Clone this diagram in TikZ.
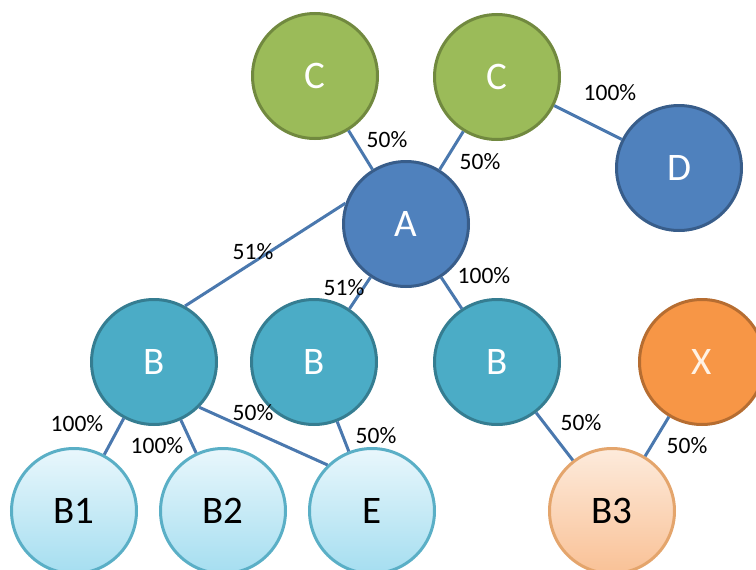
\documentclass[tikz,border=0pt]{standalone}
\usepackage{fontspec}
\setmainfont{Carlito}
\begin{document}
\begin{tikzpicture}[x=1pt,y=-1pt,
  ent/.style={circle,minimum size=125pt,inner sep=0pt,line width=3pt,font=\fontsize{39}{44}\selectfont},
  green/.style={ent,fill=cgreen,draw=cgreenD,text=white},
  blue/.style={ent,fill=cblue,draw=cblueD,text=white},
  teal/.style={ent,fill=cteal,draw=ctealD,text=white},
  orange/.style={ent,fill=corange,draw=corangeD,text=white!90!orange},
  pale/.style={ent,top color=cpaleT,bottom color=cpaleB,draw=cpaleD,text=black},
  peach/.style={ent,top color=cpeachT,bottom color=cpeachB,draw=cpeachD,text=black},
  link/.style={draw=clink,line width=3pt},
  pct/.style={font=\fontsize{23.5}{27}\selectfont,text=black,inner sep=0pt}]
\definecolor{cgreen}{HTML}{9BBB59}
\definecolor{cgreenD}{HTML}{71893F}
\definecolor{cblue}{HTML}{4F81BD}
\definecolor{cblueD}{HTML}{385D8A}
\definecolor{cteal}{HTML}{4BACC6}
\definecolor{ctealD}{HTML}{357D91}
\definecolor{corange}{HTML}{F79646}
\definecolor{corangeD}{HTML}{B66D31}
\definecolor{cpaleT}{HTML}{E9F7FC}
\definecolor{cpaleB}{HTML}{A5DEF0}
\definecolor{cpaleD}{HTML}{5AAFC6}
\definecolor{cpeachT}{HTML}{FDEBDC}
\definecolor{cpeachB}{HTML}{F9C196}
\definecolor{cpeachD}{HTML}{E4A56C}
\definecolor{clink}{HTML}{4A78AE}
\useasboundingbox (0,0) rectangle (756,570);
\begin{scope}
\clip (0,0) rectangle (756,570);
% entities
\node[green]  (C1) at (315,76)  {C};
\node[green]  (C2) at (497,77)  {C};
\node[blue]   (D)  at (679,168) {D};
\node[blue]   (A)  at (406,224) {A};
\node[teal]   (Bl) at (154,362) {B};
\node[teal]   (Bm) at (314,362) {B};
\node[teal]   (Br) at (497,362) {B};
\node[orange] (X)  at (702,362) {X};
\node[pale]   (B1) at (74,511)  {B1};
\node[pale]   (B2) at (223,511) {B2};
\node[pale]   (E)  at (372,511) {E};
\node[peach]  (B3) at (612,511) {B3};
% ownership links
\draw[link] (C1) -- (A);
\draw[link] (C2) -- (A);
\draw[link] (C2) -- (D);
\draw[link] (A.161) -- (Bl.61);
\draw[link] (A) -- (Bm);
\draw[link] (A) -- (Br);
\draw[link] (Bl) -- (B1);
\draw[link] (Bl) -- (B2);
\draw[link] (Bl.-45) -- (E.134);
\draw[link] (Bm) -- (E);
\draw[link] (Br) -- (B3);
\draw[link] (X) -- (B3);
\end{scope}
% percentages
\node[pct] (p1)  at (387,140) {50\%};
\node[pct] (p2)  at (480,162) {50\%};
\node[pct] (p3)  at (610,93)  {100\%};
\node[pct] (p4)  at (253,252) {51\%};
\node[pct] (p5)  at (344,288) {51\%};
\node[pct] (p6)  at (484,276) {100\%};
\node[pct] (p7)  at (77,424)  {100\%};
\node[pct] (p8)  at (157,446) {100\%};
\node[pct] (p9)  at (253,413) {50\%};
\node[pct] (p10) at (376,436) {50\%};
\node[pct] (p11) at (581,423) {50\%};
\node[pct] (p12) at (687,446) {50\%};
\end{tikzpicture}
\end{document}
